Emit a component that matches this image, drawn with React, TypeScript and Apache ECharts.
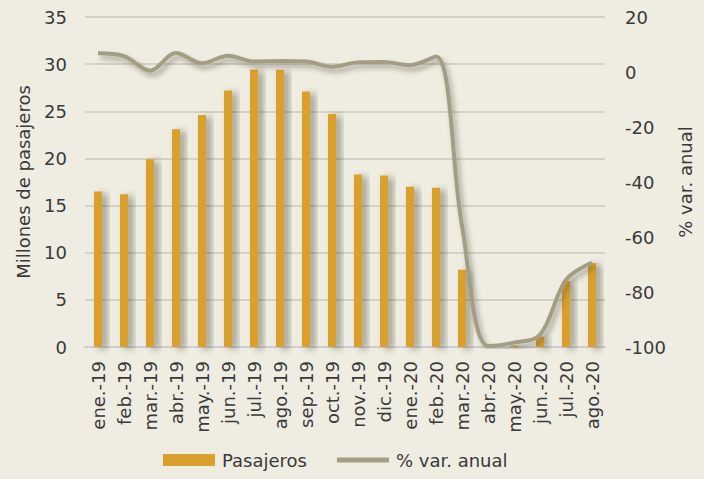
import React, { useEffect, useRef } from "react";
import * as echarts from "echarts";

const categories = [
  "ene.-19", "feb.-19", "mar.-19", "abr.-19", "may.-19", "jun.-19", "jul.-19", "ago.-19",
  "sep.-19", "oct.-19", "nov.-19", "dic.-19", "ene.-20", "feb.-20", "mar.-20", "abr.-20",
  "may.-20", "jun.-20", "jul.-20", "ago.-20",
];
const pasajeros = [16.5, 16.2, 19.9, 23.1, 24.6, 27.2, 29.4, 29.4, 27.1, 24.7, 18.3, 18.2, 17.0, 16.9, 8.2, 0.1, 0.15, 1.1, 7.0, 8.9];
const varAnual = [6.8, 5.8, 0.5, 6.9, 3.2, 5.9, 3.8, 4.0, 3.8, 1.9, 3.5, 3.6, 2.5, 5.6, -56, -99.6, -98.4, -95.6, -75.6, -69.3];
const leftTicks = { min: 0, max: 35, interval: 5 };
const rightTicks = { min: -100, max: 20, interval: 20 };

const FONT = "DejaVu Sans";
const TEXT = "#3a3a3a";

export default function App() {
  const ref = useRef<HTMLDivElement>(null);
  useEffect(() => {
    if (!ref.current) return;
    const chart = echarts.init(ref.current, undefined, { renderer: "svg" });
    chart.setOption({
      animation: false,
      backgroundColor: "#efece2",
      textStyle: { fontFamily: FONT, color: TEXT },
      grid: { left: 85, right: 99, top: 17, bottom: 132 },
      legend: {
        bottom: 5,
        left: 158,
        itemGap: 30,
        itemWidth: 52,
        itemHeight: 12,
        symbolKeepAspect: true,
        textStyle: { fontFamily: FONT, fontSize: 18, color: TEXT, padding: [0, 0, 0, 2] },
        data: [
          { name: "Pasajeros", icon: "rect" },
          { name: "% var. anual", icon: "path://M0,0 H52 V5 H0 Z" },
        ],
      },
      xAxis: {
        type: "category",
        data: categories,
        axisLine: { show: true, lineStyle: { color: "#cfccd6", width: 2 } },
        axisTick: { show: false },
        axisLabel: { rotate: 90, fontSize: 18, color: TEXT, fontFamily: FONT, margin: 14, interval: 0 },
      },
      yAxis: [
        {
          type: "value",
          ...leftTicks,
          name: "Millones de pasajeros",
          nameLocation: "middle",
          nameGap: 53,
          nameTextStyle: { fontSize: 18, color: TEXT, fontFamily: FONT },
          axisLabel: { fontSize: 18, color: TEXT, fontFamily: FONT, margin: 18 },
          axisLine: { show: false },
          axisTick: { show: false },
          splitLine: { lineStyle: { color: "#d5d1c5", width: 2 } },
        },
        {
          type: "value",
          ...rightTicks,
          position: "right",
          name: "% var. anual",
          nameLocation: "middle",
          nameRotate: 90,
          nameGap: 66,
          nameTextStyle: { fontSize: 18, color: TEXT, fontFamily: FONT },
          axisLabel: { fontSize: 18, color: TEXT, fontFamily: FONT, margin: 20 },
          axisLine: { show: false },
          axisTick: { show: false },
          splitLine: { show: false },
        },
      ],
      series: [
        {
          name: "Pasajeros",
          type: "bar",
          data: pasajeros,
          barWidth: 8,
          itemStyle: {
            color: "#daa02e",
            shadowColor: "rgba(60,55,40,0.45)",
            shadowBlur: 7,
            shadowOffsetX: 5,
            shadowOffsetY: 2,
          },
        },
        {
          name: "% var. anual",
          type: "line",
          yAxisIndex: 1,
          data: varAnual,
          smooth: 0.35,
          symbol: "none",
          lineStyle: {
            color: "#a39e83",
            width: 4,
            shadowColor: "rgba(60,55,40,0.4)",
            shadowBlur: 5,
            shadowOffsetX: 3,
            shadowOffsetY: 4,
          },
          itemStyle: { color: "#a39e83" },
        },
      ],
    });
    return () => chart.dispose();
  }, []);
  return <div ref={ref} style={{ width: 704, height: 479, position: "absolute", left: 0, top: 0 }} />;
}
